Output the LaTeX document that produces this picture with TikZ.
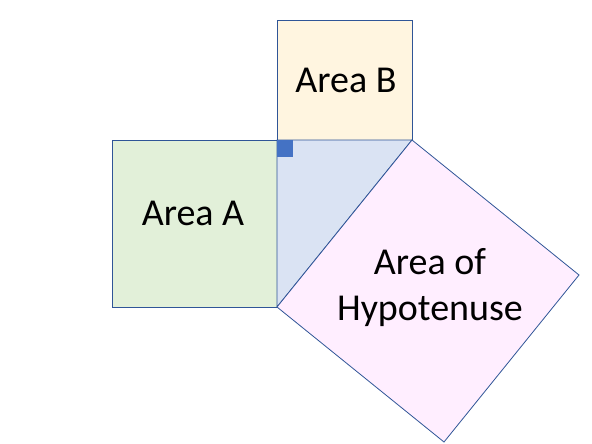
\documentclass[tikz,border=0pt]{standalone}
\usepackage{fontspec}
\setmainfont{Carlito}
\definecolor{edge}{HTML}{2F5597}
\definecolor{fa}{HTML}{E2F0D9}
\definecolor{fb}{HTML}{FFF5E0}
\definecolor{ft}{HTML}{DAE3F3}
\definecolor{fh}{HTML}{FFEEFF}
\definecolor{mk}{HTML}{4472C4}
\begin{document}
\begin{tikzpicture}[x=1pt,y=-1pt,
  face/.style={draw=edge,line width=0.8pt,line join=miter},
  lbl/.style={font=\fontsize{38}{46}\selectfont,align=center,inner sep=0pt}]
\useasboundingbox (0,0) rectangle (592,444);
\coordinate (C) at (277,140);
\coordinate (R) at (412,140);
\coordinate (L) at (277,307);
\coordinate (P) at (444,442);
\coordinate (Q) at (579,275);
\draw[face,fill=fa] (112,140) rectangle (277,307);
\draw[face,fill=fb] (277,20) rectangle (412,140);
\draw[face,fill=ft] (C) -- (R) -- (L) -- cycle;
\draw[face,fill=fh] (R) -- (L) -- (P) -- (Q) -- cycle;
\fill[mk] (277,140) rectangle (293,157);
\node[lbl] (a) at (193,213) {Area A};
\node[lbl] (b) at (346,80) {Area B};
\node[lbl] (h) at (430,288) {Area of\\Hypotenuse};
\end{tikzpicture}
\end{document}
